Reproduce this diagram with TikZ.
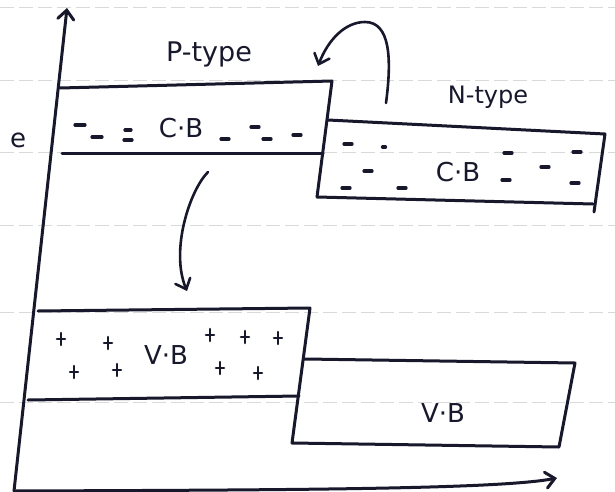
\documentclass[tikz,border=0pt]{standalone}
\usepackage{fontspec}
\setmainfont{DejaVu Sans}
\usetikzlibrary{arrows.meta}
\definecolor{inkc}{RGB}{24,24,44}
\begin{document}
\begin{tikzpicture}[x=1pt,y=-1pt,
  ink/.style={draw=inkc, line width=3pt, line cap=round, line join=round},
  paper/.style={draw=gray!30, line width=1pt, dash pattern=on 14pt off 5pt},
  lbl/.style={text=inkc, inner sep=0pt, font=\fontsize{26}{28}\selectfont},
  carrier/.style={draw=inkc, line width=3.2pt, line cap=round},
  tiparrow/.style={-{Straight Barb[length=9pt,width=16pt,line cap=round]}}
]
\useasboundingbox[fill=white] (0,0) rectangle (615,492);
% ruled paper
\foreach \yy in {8,81,152,225,312,402}
  \draw[paper] (0,\yy) -- (615,\yy);
% axes
\coordinate (O) at (14,491);
\coordinate (Ytip) at (67,8);
\coordinate (Xtip) at (557,478);
\draw[ink,tiparrow] (O) -- (Ytip);
\draw[ink,tiparrow] (O) .. controls (300,490) and (500,489) .. (Xtip);
% conduction band boxes
\coordinate (PCtl) at (60,88);
\coordinate (PCtr) at (332,81);
\coordinate (PCbl) at (62,153);
\coordinate (PCbr) at (323,153);
\coordinate (NCtl) at (328,120);
\coordinate (NCtr) at (605,134);
\coordinate (NCbl) at (317,197);
\coordinate (NCbr) at (593,204);
\coordinate (NCre) at (594,212);
\draw[ink] (PCtl) -- (PCtr) -- (NCbl);
\draw[ink] (PCbl) -- (PCbr);
\draw[ink] (NCtl) -- (NCtr) -- (NCre);
\draw[ink] (NCbl) -- (NCbr);
% valence band boxes
\coordinate (PVtl) at (38,311);
\coordinate (PVtr) at (310,308);
\coordinate (PVbl) at (28,400);
\coordinate (PVbr) at (299,396);
\coordinate (NVtl) at (305,359);
\coordinate (NVtr) at (575,363);
\coordinate (NVbl) at (292,443);
\coordinate (NVbr) at (559,447);
\draw[ink] (PVtl) -- (PVtr) -- (NVbl) -- (NVbr) -- (NVtr) -- (NVtl);
\draw[ink] (PVbl) -- (PVbr);
% curved arrows
\coordinate (A1s) at (386,103);
\coordinate (A1e) at (318,66);
\draw[ink,tiparrow,line width=2.6pt] (A1s) .. controls (392,58) and (390,22) .. (365,22)
  .. controls (345,22) and (328,40) .. (A1e);
\coordinate (A2s) at (208,172);
\coordinate (A2e) at (187,291);
\draw[ink,tiparrow,line width=2.6pt] (A2s) .. controls (190,190) and (170,250) .. (A2e);
% electrons
\foreach \x/\y/\l in {80/125/5,97/137/5,128/130/3,128/140/4,225/139/4,255/127/4,267/139/4,297/135/4,
  348/144/4,384/147/1.5,368/171/4,346/188/4,402/188/4,508/153/4,506/180/4,545/167/4,577/152/4,575/183/4}
  \draw[carrier] (\x-\l,\y) -- (\x+\l,\y);
% holes
\foreach \x/\y in {61/339,74/372,108/343,117/370,210/335,220/368,245/337,258/373,278/338}
  \draw[carrier,line width=2.6pt] (\x-4,\y) -- (\x+4,\y) (\x,\y-6) -- (\x,\y+6);
% labels
\node[lbl,font=\fontsize{27}{29}\selectfont] (ptype) at (209,54) {P-type};
\node[lbl,font=\fontsize{24}{26}\selectfont] (ntype) at (488,97) {N-type};
\node[lbl,font=\fontsize{26}{28}\selectfont] (e) at (18,140) {e};
\node[lbl] (cb1) at (181,128) {C·B};
\node[lbl] (cb2) at (458,172) {C·B};
\node[lbl] (vb1) at (166,355) {V·B};
\node[lbl] (vb2) at (443,413) {V·B};
\end{tikzpicture}
\end{document}
